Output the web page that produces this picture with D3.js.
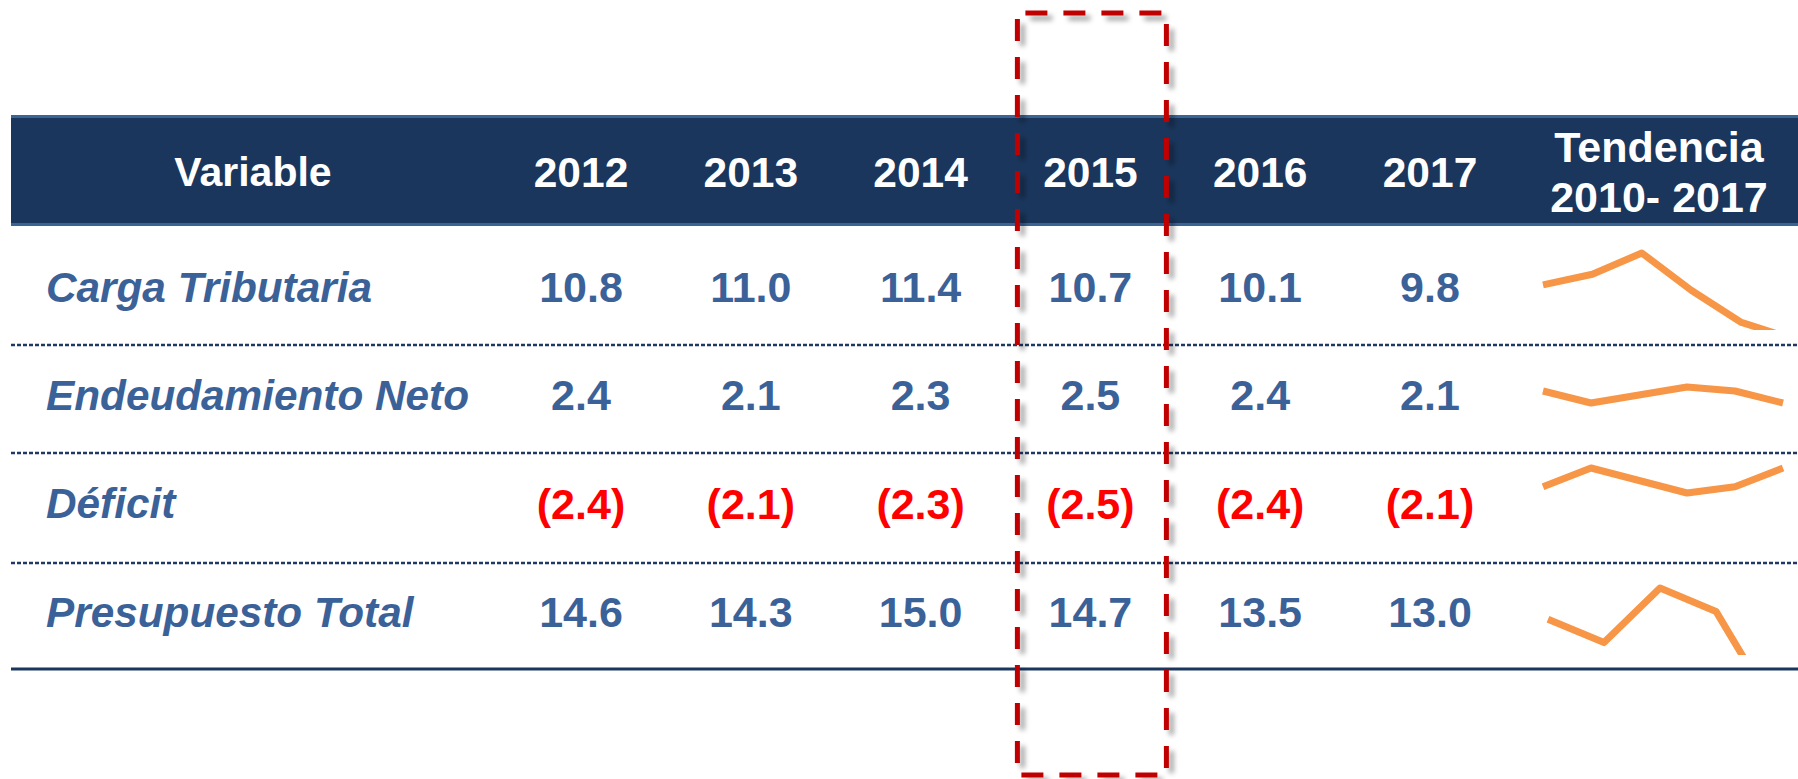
<!DOCTYPE html>
<html>
<head>
<meta charset="utf-8">
<script src="https://cdn.jsdelivr.net/npm/d3@7"></script>
<style>
  body { margin: 0; background: #ffffff; }
  text { font-family: "Liberation Sans", Arial, sans-serif; font-weight: bold; }
</style>
</head>
<body>
<div id="tabla"></div>
<script>
// datos
var years = ["2012", "2013", "2014", "2015", "2016", "2017"];
var variables = ["Carga Tributaria", "Endeudamiento Neto", "Déficit", "Presupuesto Total"];
var cargaTributaria = [10.8, 11.0, 11.4, 10.7, 10.1, 9.8];
var endeudamientoNeto = [2.4, 2.1, 2.3, 2.5, 2.4, 2.1];
var deficit = [-2.4, -2.1, -2.3, -2.5, -2.4, -2.1];
var presupuestoTotal = [14.6, 14.3, 15.0, 14.7, 13.5, 13.0];
var highlightYear = "2015";

var series = [cargaTributaria, endeudamientoNeto, deficit, presupuestoTotal];

var W = 1798, H = 779;
var navy = "#1a365c", steel = "#3b6298", orange = "#f79646";

var svg = d3.select("#tabla")
    .append("svg")
    .attr("width", W)
    .attr("height", H);

var defs = svg.append("defs");
var sh = defs.append("filter").attr("id", "sombra")
    .attr("x", "-20%").attr("y", "-5%").attr("width", "140%").attr("height", "110%");
sh.append("feDropShadow")
    .attr("dx", 5).attr("dy", 5).attr("stdDeviation", 2.5)
    .attr("flood-color", "#000").attr("flood-opacity", 0.35);

// columnas y filas
var x = d3.scalePoint().domain(years).range([581, 1430]);
var y = d3.scalePoint().domain(variables).range([287, 612]);
var lineY = [345, 453, 563];

// cabecera
svg.append("rect")
    .attr("x", 11).attr("y", 115)
    .attr("width", W - 11).attr("height", 111)
    .style("fill", navy);
svg.append("rect").attr("x", 11).attr("y", 115).attr("width", W - 11).attr("height", 3).style("fill", "#3a6494");
svg.append("rect").attr("x", 11).attr("y", 223).attr("width", W - 11).attr("height", 3).style("fill", "#3a6494");

svg.append("text")
    .attr("x", 253).attr("y", 172)
    .attr("dy", "0.35em")
    .attr("text-anchor", "middle")
    .style("font-size", "41px")
    .style("fill", "#fff")
    .text("Variable");

svg.selectAll(".anio")
    .data(years)
    .enter()
    .append("text")
    .attr("class", "anio")
    .attr("x", function(d){ return x(d); })
    .attr("y", 172)
    .attr("dy", "0.35em")
    .attr("text-anchor", "middle")
    .style("font-size", "42.5px")
    .style("fill", "#fff")
    .text(function(d){ return d; });

var tend = svg.append("text")
    .attr("x", 1659)
    .attr("text-anchor", "middle")
    .style("font-size", "43px")
    .style("fill", "#fff");
tend.append("tspan").attr("x", 1659).attr("y", 162).text("Tendencia");
tend.append("tspan").attr("x", 1659).attr("y", 212).text("2010- 2017");

// separadores
svg.selectAll(".sep")
    .data(lineY)
    .enter()
    .append("line")
    .attr("x1", 11).attr("x2", W)
    .attr("y1", function(d){ return d; })
    .attr("y2", function(d){ return d; })
    .style("stroke", "#1f3864")
    .style("stroke-width", 2.5)
    .style("stroke-dasharray", "4,2");

svg.append("line")
    .attr("x1", 11).attr("x2", W)
    .attr("y1", 669).attr("y2", 669)
    .style("stroke", navy)
    .style("stroke-width", 3);

// etiquetas de fila
svg.selectAll(".etiqueta")
    .data(variables)
    .enter()
    .append("text")
    .attr("x", 46)
    .attr("y", function(d){ return y(d); })
    .attr("dy", "0.35em")
    .style("font-size", "42.3px")
    .style("font-style", "italic")
    .style("fill", steel)
    .text(function(d){ return d; });

// valores
function fmt(v) {
    return v < 0 ? "(" + d3.format(".1f")(-v) + ")" : d3.format(".1f")(v);
}
series.forEach(function(vals, r) {
    svg.selectAll(".v" + r)
        .data(vals)
        .enter()
        .append("text")
        .attr("x", function(d, i){ return x(years[i]); })
        .attr("y", y(variables[r]))
        .attr("dy", "0.35em")
        .attr("text-anchor", "middle")
        .style("font-size", "43px")
        .style("fill", function(d){ return d < 0 ? "#ff0000" : steel; })
        .text(fmt);
});

// minigraficos (cada uno con su propia escala, como en el original)
var spark = [
    { x0: 1543, x1: 1790, top: 253, bottom: 338, clip: 330 },
    { x0: 1543, x1: 1783, top: 387, bottom: 403, clip: 452 },
    { x0: 1543, x1: 1783, top: 468, bottom: 493, clip: 560 },
    { x0: 1548, x1: 1828, top: 588, bottom: 744, clip: 655 }
];
series.forEach(function(vals, r) {
    var s = spark[r];
    var sx = d3.scaleLinear().domain([0, vals.length - 1]).range([s.x0, s.x1]);
    var sy = d3.scaleLinear().domain(d3.extent(vals)).range([s.bottom, s.top]);
    defs.append("clipPath").attr("id", "clip" + r)
        .append("rect").attr("x", 1500).attr("y", 0).attr("width", 298).attr("height", s.clip);
    svg.append("path")
        .datum(vals)
        .attr("clip-path", "url(#clip" + r + ")")
        .attr("d", d3.line().x(function(d, i){ return sx(i); }).y(function(d){ return sy(d); }))
        .style("fill", "none")
        .style("stroke", orange)
        .style("stroke-width", 7)
        .style("stroke-linejoin", "round");
});

// recuadro 2015
var bx = x(highlightYear);
svg.append("rect")
    .attr("x", bx - 73).attr("y", 13)
    .attr("width", 149).attr("height", 762)
    .attr("filter", "url(#sombra)")
    .style("fill", "none")
    .style("stroke", "#c00000")
    .style("stroke-width", 5)
    .style("stroke-dasharray", "22,16")
    .style("stroke-dashoffset", -8);
</script>
</body>
</html>
